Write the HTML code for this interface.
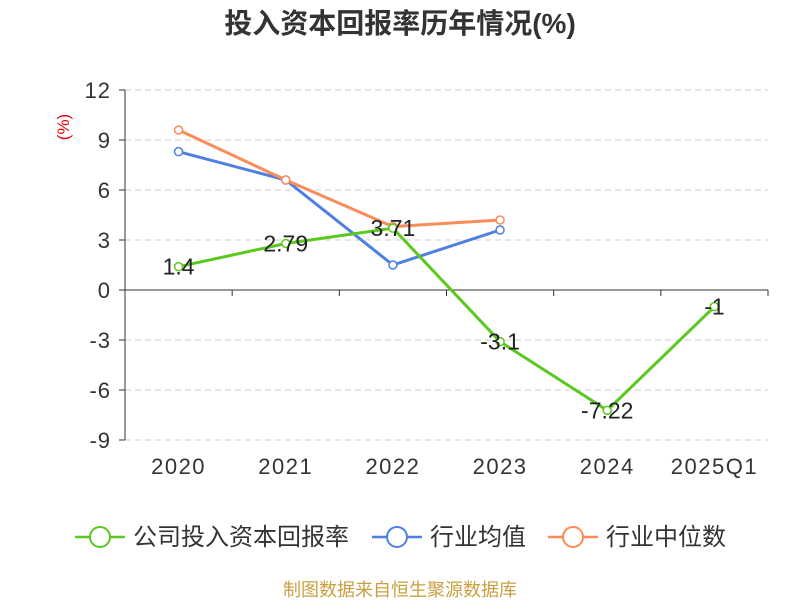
<!DOCTYPE html>
<html><head><meta charset="utf-8"><style>
body{margin:0;background:#fff;width:800px;height:600px;overflow:hidden;font-family:"Liberation Sans","Noto Sans CJK SC",sans-serif}
</style></head><body>
<svg id="c" width="800" height="600" xmlns="http://www.w3.org/2000/svg" font-family="Liberation Sans, Noto Sans CJK SC, sans-serif">
<text x="400" y="33" text-anchor="middle" font-size="28" font-weight="bold" fill="#333">投入资本回报率历年情况(%)</text>
<text x="0" y="0" transform="translate(69,127) rotate(-90)" text-anchor="middle" font-size="17" fill="#e00">(%)</text>
<g id="grid"></g><g id="axes"></g><g id="series"></g><g id="legend"></g>
<text x="400" y="596" text-anchor="middle" font-size="18" fill="#c8a040">制图数据来自恒生聚源数据库</text>
</svg>
<script>
const categories=["2020","2021","2022","2023","2024","2025Q1"];
const yTicks=[12,9,6,3,0,-3,-6,-9];
const companyVals=[1.4,2.79,3.71,-3.1,-7.22,-1];
const companyLabels=["1.4","2.79","3.71","-3.1","-7.22","-1"];
const avgVals=[8.3,6.6,1.5,3.6];
const medianVals=[9.6,6.6,3.8,4.2];
const NS="http://www.w3.org/2000/svg";
const x0=125,x1=768,bw=(x1-x0)/categories.length;
const X=i=>x0+bw*(i+0.5);
const Y=v=>290-v*(200/12);
function mk(t,a,p){const e=document.createElementNS(NS,t);for(const k in a)e.setAttribute(k,a[k]);p.appendChild(e);return e;}
const grid=document.getElementById('grid'),axes=document.getElementById('axes'),ser=document.getElementById('series'),leg=document.getElementById('legend');
yTicks.forEach(v=>{
 if(v!==0){const g=mk('line',{x1:x0,x2:x1,y1:Y(v),y2:Y(v),stroke:'#ccc','stroke-dasharray':'6,4'},grid);
 }
 const t=mk('line',{x1:x0-6,x2:x0,y1:Y(v),y2:Y(v),stroke:'#333'},axes);
 
 const l=mk('text',{x:x0-14,y:Y(v)+8,'text-anchor':'end','font-size':22,fill:'#333','letter-spacing':1},axes);l.textContent=v;
 
});
const ya=mk('line',{x1:x0,x2:x0,y1:Y(12),y2:Y(-9),stroke:'#333'},axes);

const xa=mk('line',{x1:x0,x2:x1,y1:Y(0),y2:Y(0),stroke:'#333'},axes);

for(let i=0;i<=categories.length;i++){const t=mk('line',{x1:x0+bw*i,x2:x0+bw*i,y1:Y(0),y2:Y(0)+6,stroke:'#333'},axes);
 }
categories.forEach((c,i)=>{const t=mk('text',{x:X(i),y:474,'text-anchor':'middle','font-size':22,fill:'#333','letter-spacing':1.5},axes);t.textContent=c;
 });
function series(vals,color,name){
 const p=mk('polyline',{points:vals.map((v,i)=>X(i)+','+Y(v)).join(' '),fill:'none',stroke:color,'stroke-width':3},ser);
 
 vals.forEach((v,i)=>{const c=mk('circle',{cx:X(i),cy:Y(v),r:4,fill:'#fff',stroke:color,'stroke-width':1.5},ser);
 });
}
series(avgVals,'#4f7fe0','industry-average');
series(medianVals,'#fa8c5a','industry-median');
series(companyVals,'#5ac81e','company');
companyVals.forEach((v,i)=>{const t=mk('text',{x:X(i),y:Y(v)+8,'text-anchor':'middle','font-size':23,fill:'#222'},ser);t.textContent=companyLabels[i];
 });
const items=[["公司投入资本回报率","#5ac81e",75],["行业均值","#4f7fe0",372],["行业中位数","#fa8c5a",548]];
items.forEach(([n,c,x])=>{const g=mk('g',{},leg);
 mk('line',{x1:x,x2:x+50,y1:537,y2:537,stroke:c,'stroke-width':2.5},g);
 mk('circle',{cx:x+25,cy:537,r:10,fill:'#fff',stroke:c,'stroke-width':2},g);
 const t=mk('text',{x:x+58,y:545,'font-size':24,fill:'#333'},g);t.textContent=n;});
</script>
</body></html>
